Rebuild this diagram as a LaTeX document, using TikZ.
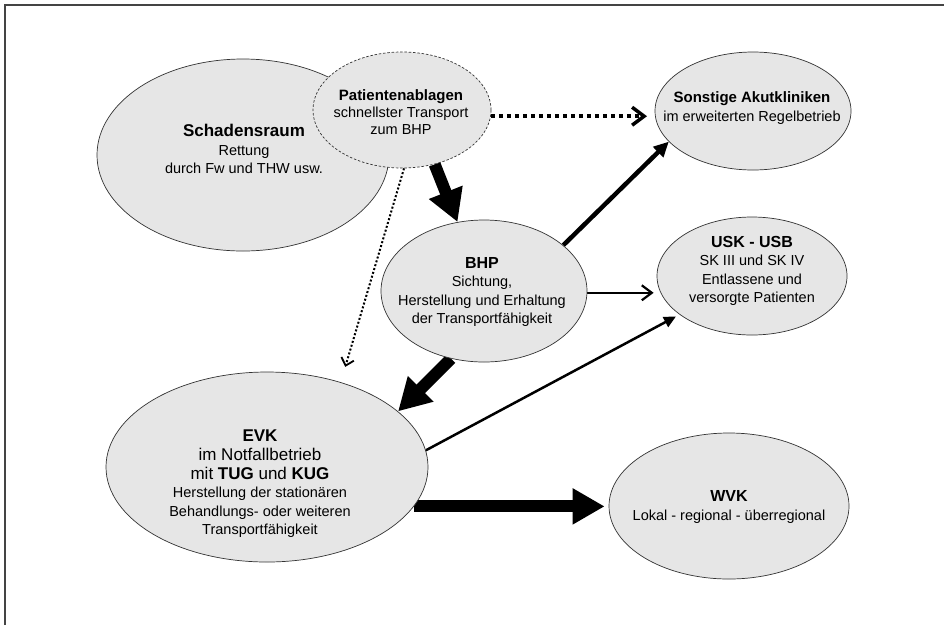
\documentclass[tikz,border=0pt]{standalone}
\usepackage{fontspec}
\setmainfont{Liberation Sans}
\usetikzlibrary{shapes.geometric,arrows.meta}
\definecolor{ellfill}{HTML}{E6E6E6}
\definecolor{ellline}{HTML}{333333}
\definecolor{framec}{HTML}{444444}
\pgfdeclarelayer{back}
\pgfdeclarelayer{bg}
\pgfsetlayers{back,bg,main}
\newcommand{\mytitle}[2][16]{{\fontsize{#1}{18}\selectfont\bfseries #2}}
\begin{document}
\begin{tikzpicture}[x=1pt,y=-1pt,
  ell/.style={ellipse, draw=ellline, line width=0.7pt, fill=ellfill, inner sep=0pt},
  txt/.style={align=center, inner sep=0pt, font=\fontsize{14.5}{18.5}\selectfont},
  bigarrow/.style={line width=12pt, -{Triangle[length=32pt,width=34pt]}},
  dotthick/.style={line width=4pt, dash pattern=on 4pt off 4pt, -{Straight Barb[length=12pt,width=18pt,line width=3.5pt]}},
  dotthin/.style={line width=2pt, dash pattern=on 2pt off 2pt, -{Straight Barb[length=7pt,width=13pt,line width=1.8pt]}},
  midarrow/.style={line width=4.5pt, -{Triangle[length=15pt,width=14pt]}},
  openarrow/.style={line width=2.5pt, -{Straight Barb[length=10pt,width=15pt,line width=2.2pt]}},
  thinarrow/.style={line width=2.5pt, -{Triangle[length=12pt,width=11pt]}}]
\useasboundingbox (0,0) rectangle (944,625);
\begin{pgfonlayer}{back}
\fill[white] (0,0) rectangle (944,625);
\end{pgfonlayer}
\draw[framec, line width=2pt] (4.5,625) -- (4.5,5) -- (944,5);

% ellipses
\node[ell, minimum width=292pt, minimum height=192pt] (schaden) at (243,155) {};
\node[ell, dashed, dash pattern=on 2.5pt off 1.8pt, minimum width=178pt, minimum height=116pt] (pat) at (402,110) {};
\node[ell, minimum width=196pt, minimum height=118pt] (sonst) at (753,111) {};
\node[ell, minimum width=206pt, minimum height=142pt] (bhp) at (484,291) {};
\node[ell, minimum width=190pt, minimum height=118pt] (usk) at (752,276) {};
\node[ell, minimum width=322pt, minimum height=190pt] (evk) at (267,467) {};
\node[ell, minimum width=240pt, minimum height=146pt] (wvk) at (729,506) {};

% texts
\node[txt] (schadenT) at (244,149) {\mytitle[17]{Schadensraum}\\Rettung\\durch Fw und THW usw.};
\node[txt] (patT) at (401,112) {\mytitle[15]{Patientenablagen}\\[-1.5pt]schnellster Transport\\[-2pt]zum BHP};
\node[txt] (sonstT) at (752,108) {\mytitle[15]{Sonstige Akutkliniken}\\im erweiterten Regelbetrieb};
\node[txt] (bhpT) at (482,292) {\mytitle{BHP}\\Sichtung,\\Herstellung und Erhaltung\\der Transportfähigkeit};
\node[txt] (uskT) at (752,271) {\mytitle{USK - USB}\\SK III und SK IV\\Entlassene und\\versorgte Patienten};
\node[txt] (evkT) at (260,484) {\mytitle[17]{EVK}\\{\fontsize{17}{19}\selectfont im Notfallbetrieb}\\[0.5pt]{\fontsize{17}{19}\selectfont mit \textbf{TUG} und \textbf{KUG}}\\Herstellung der stationären\\Behandlungs- oder weiteren\\Transportfähigkeit};
\node[txt] (wvkT) at (729,507) {\mytitle{WVK}\\Lokal - regional - überregional};

% connectors
\begin{pgfonlayer}{bg}
\draw[dotthick, shorten >=8pt] (pat.-4) -- (pat.-4 -| sonst.183);
\draw[bigarrow] (pat.-59) -- (bhp.111);
\draw[dotthin, shorten >=16pt] (pat.-88) -- (evk.49.8);
\draw[midarrow] (bhp.30.7) -- (sonst.200);
\draw[openarrow, shorten >=3pt] (bhp.-1) -- (bhp.-1 -| usk.west);
\draw[bigarrow] (bhp.244.5) -- (evk.23.4);
\draw[thinarrow, shorten >=4pt] (evk.6.4) -- (usk.208);
\draw[bigarrow, shorten >=4pt] (evk.-15) -- (evk.-15 -| wvk.west);
\end{pgfonlayer}
\end{tikzpicture}
\end{document}
